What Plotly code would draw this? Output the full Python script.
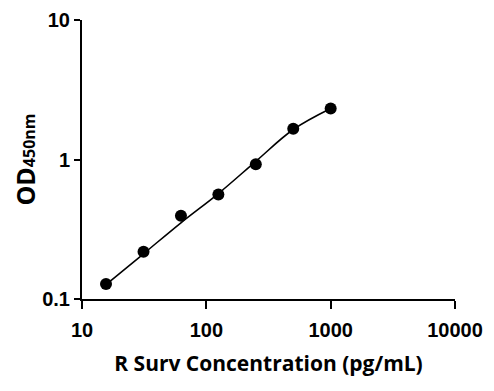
import plotly.graph_objects as go

# Data
concentration = [15.6, 31.25, 62.5, 125, 250, 500, 1000]
od450 = [0.128, 0.218, 0.395, 0.562, 0.925, 1.66, 2.32]
# Fitted standard curve
curve_x = [15.6, 31.25, 62.5, 125, 250, 500, 1000]
curve_y = [0.127, 0.211, 0.352, 0.57, 0.97, 1.64, 2.32]

x_ticks = [10, 100, 1000, 10000]
x_tick_labels = ["10", "100", "1000", "10000"]
y_ticks = [0.1, 1, 10]
y_tick_labels = ["0.1", "1", "10"]

fig = go.Figure()
fig.add_trace(go.Scatter(x=curve_x, y=curve_y, mode="lines",
                         line=dict(color="black", width=1.6, shape="spline", smoothing=1.0),
                         hoverinfo="skip", showlegend=False))
fig.add_trace(go.Scatter(x=concentration, y=od450, mode="markers",
                         marker=dict(color="black", size=12), showlegend=False))

tickfont = dict(family="Liberation Sans", size=20, color="black", weight="bold")

# page body has an 8px default margin, so the figure is sized 8px smaller
fig.update_layout(
    width=486, height=383,
    margin=dict(l=74, r=39, t=12, b=92, autoexpand=False),
    paper_bgcolor="white", plot_bgcolor="white",
    xaxis=dict(type="log", range=[1, 4], tickvals=x_ticks, ticktext=x_tick_labels,
               automargin=False,
               showline=True, linecolor="black", linewidth=2, showgrid=False, zeroline=False,
               ticks="outside", ticklen=8, tickwidth=2, tickcolor="black",
               ticklabelstandoff=4,
               tickfont=tickfont,
               title=dict(text="R Surv Concentration (pg/mL)",
                          font=dict(family="Open Sans", size=21, color="black", weight="bold"),
                          standoff=16)),
    yaxis=dict(type="log", range=[-1, 1], tickvals=y_ticks, ticktext=y_tick_labels,
               automargin=False,
               showline=True, linecolor="black", linewidth=2, showgrid=False, zeroline=False,
               ticks="outside", ticklen=6, tickwidth=2, tickcolor="black",
               tickfont=tickfont,
               title=dict(text="OD<span style='font-size:16px'>450nm</span>",
                          font=dict(family="Open Sans", size=25, color="black", weight="bold"),
                          standoff=20)),
)

fig.write_html("out.html")
